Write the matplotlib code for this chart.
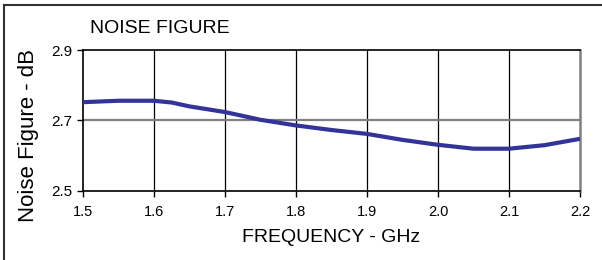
import matplotlib
matplotlib.use("Agg")
import matplotlib.pyplot as plt
from matplotlib.lines import Line2D

freq = [1.50, 1.55, 1.60, 1.625, 1.65, 1.70, 1.75, 1.80, 1.85, 1.90, 1.95, 2.00, 2.05, 2.10, 2.15, 2.20]
nf = [2.752, 2.756, 2.756, 2.751, 2.740, 2.724, 2.702, 2.686, 2.673, 2.662, 2.645, 2.631, 2.620, 2.620, 2.630, 2.648]
xticks = [1.5, 1.6, 1.7, 1.8, 1.9, 2.0, 2.1, 2.2]
xticklabels = ["1.5", "1.6", "1.7", "1.8", "1.9", "2.0", "2.1", "2.2"]
yticks = [2.5, 2.7, 2.9]
yticklabels = ["2.5", "2.7", "2.9"]

plt.rcParams['font.family'] = ['Liberation Sans', 'DejaVu Sans']

fig = plt.figure(figsize=(6.02, 2.60), dpi=100)
ax = fig.add_axes([83/602, 1 - 191/260, (580-83)/602, (191-50)/260])

ax.set_xlim(1.5, 2.2)
ax.set_ylim(2.5, 2.9)
ax.set_xticks(xticks)
ax.set_xticklabels(xticklabels, fontsize=10.5)
ax.set_yticks(yticks)
ax.set_yticklabels(yticklabels, fontsize=11)

for x in xticks[1:-1]:
    ax.axvline(x, color='black', lw=0.9, zorder=1)
ax.axhline(2.7, color='#808080', lw=1.6, zorder=1)

ax.plot(freq, nf, color='#333399', lw=3, zorder=3, solid_capstyle='butt')

for s in ['left', 'bottom', 'top']:
    ax.spines[s].set_color('black')
    ax.spines[s].set_linewidth(1.2)
ax.spines['right'].set_color('#808080')
ax.spines['right'].set_linewidth(1.8)

ax.tick_params(axis='both', direction='out', length=4, width=1, color='black', pad=4)
ax.tick_params(axis='x', pad=6)

ax.set_xlabel("FREQUENCY - GHz", fontsize=14, labelpad=7)
ax.set_ylabel("Noise Figure - dB", fontsize=16)
ax.yaxis.set_label_coords((39 - 83) / 497, (191 - 135) / 141)
fig.text(90/602, 1 - 28/260, "NOISE FIGURE", fontsize=14, ha='left', va='center')

# outer frame (left and top)
fig.add_artist(Line2D([4/602, 4/602], [0, 1 - 5/260], transform=fig.transFigure, color='#333333', lw=1.5))
fig.add_artist(Line2D([4/602, 1], [1 - 5/260, 1 - 5/260], transform=fig.transFigure, color='#333333', lw=1.5))

fig.savefig("out.png", dpi=100)
